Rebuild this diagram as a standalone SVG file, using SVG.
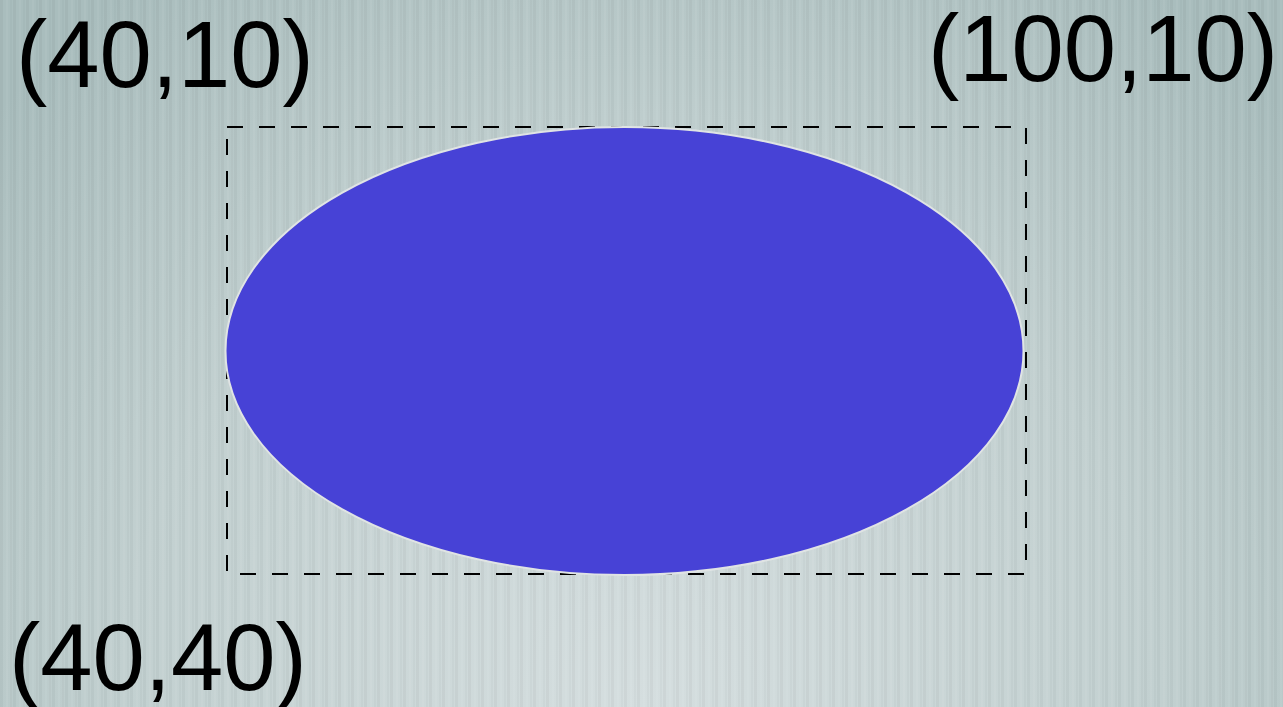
<svg xmlns="http://www.w3.org/2000/svg" width="1283" height="707" viewBox="0 0 1283 707">
<defs>
<radialGradient id="bg" cx="0.5" cy="1" r="0.9" gradientTransform="translate(0.5 1) scale(0.75 1.4) translate(-0.5 -1)">
<stop offset="0" stop-color="#d5dedf"/>
<stop offset="0.6" stop-color="#c2d0d0"/>
<stop offset="1" stop-color="#a9bdbd"/>
</radialGradient>
<pattern id="stripes" width="13" height="10" patternUnits="userSpaceOnUse">
<rect x="0" y="0" width="3" height="10" fill="#000" opacity="0.035"/>
<rect x="6" y="0" width="2" height="10" fill="#fff" opacity="0.05"/>
<rect x="10" y="0" width="2" height="10" fill="#000" opacity="0.025"/>
</pattern>
</defs>
<style>
.lbl{font-family:"Liberation Sans",Arial,sans-serif;font-size:94px;fill:#000}
</style>
<rect width="1283" height="707" fill="url(#bg)"/>
<rect width="1283" height="707" fill="url(#stripes)"/>
<g id="bbox">
<rect x="227" y="127" width="799" height="447" fill="none" stroke="#000" stroke-width="2" stroke-dasharray="16 16"/>
</g>
<g id="ellipse">
<ellipse cx="624.500" cy="351" rx="399" ry="224" fill="#4742d6" stroke="#e0e4e4" stroke-width="2"/>
</g>
<g id="labels">
<text class="lbl" x="16" y="87">(40,10)</text>
<text class="lbl" x="928" y="81">(100,10)</text>
<text class="lbl" x="9" y="690">(40,40)</text>
</g>
</svg>
